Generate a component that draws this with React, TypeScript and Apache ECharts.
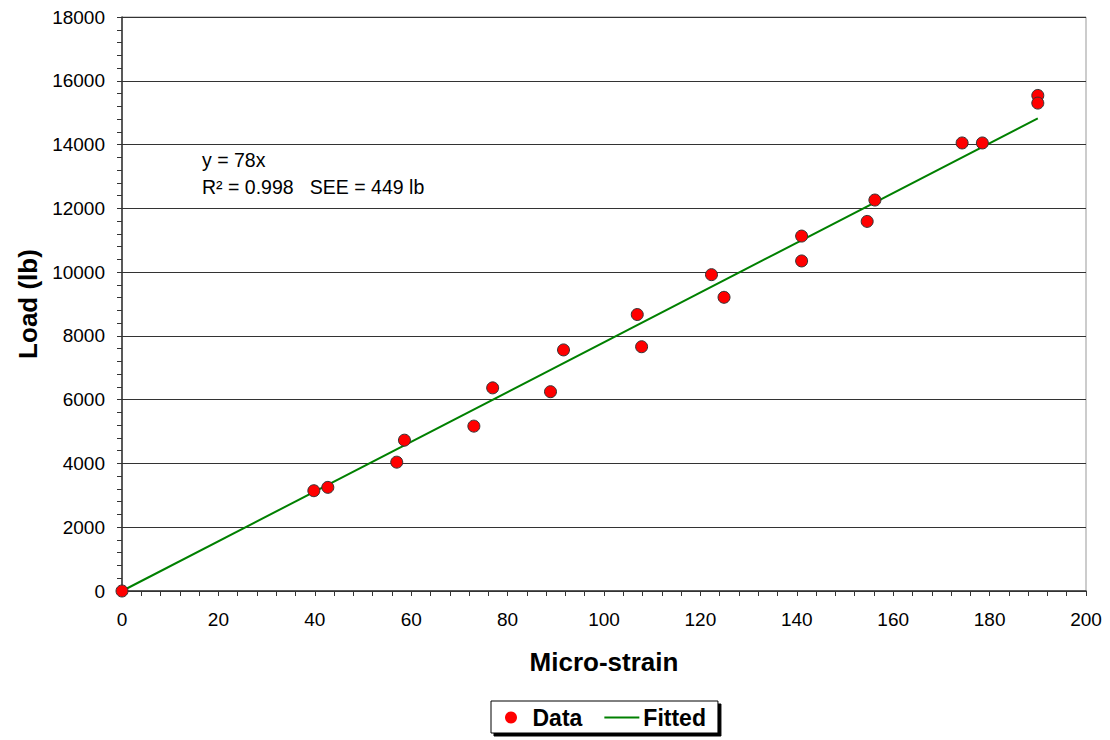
import React, { useEffect, useRef } from "react";
import * as echarts from "echarts";

const dataX = [0, 39.8, 42.7, 57.0, 58.6, 73.0, 76.9, 88.9, 91.6, 106.9, 107.8, 122.3, 124.9, 141.0, 141.0, 154.6, 156.2, 174.3, 178.5, 190.0, 190.0];
const dataY = [0, 3145, 3250, 4040, 4730, 5170, 6370, 6250, 7560, 8670, 7660, 9920, 9210, 11130, 10350, 11590, 12260, 14050, 14050, 15540, 15300];
const fittedX = [0, 190];
const fittedY = [0, 14820];
const xTicks = { min: 0, max: 200, interval: 20 };
const yTicks = { min: 0, max: 18000, interval: 2000 };
const annotationLines = ["y = 78x", "R\u00B2 = 0.998   SEE = 449 lb"];

const FONT = "'Liberation Sans', Arial, sans-serif";

export default function App() {
  const ref = useRef<HTMLDivElement>(null);
  useEffect(() => {
    if (!ref.current) return;
    const chart = echarts.init(ref.current, undefined, { renderer: "svg" });
    chart.setOption({
      animation: false,
      backgroundColor: "#fff",
      grid: {
        left: 122,
        top: 17,
        right: 24,
        bottom: 149,
        show: true,
        borderColor: "#999",
        borderWidth: 1,
        backgroundColor: "transparent",
      },
      xAxis: {
        type: "value",
        min: xTicks.min,
        max: xTicks.max,
        interval: xTicks.interval,
        name: "Micro-strain",
        nameLocation: "middle",
        nameGap: 58,
        nameTextStyle: { fontFamily: FONT, fontSize: 26, fontWeight: "bold", color: "#000" },
        axisLine: { show: true, onZero: false, lineStyle: { color: "#333", width: 1.5 } },
        axisTick: { show: true, inside: false, length: 5, lineStyle: { color: "#333" } },
        minorTick: { show: true, splitNumber: 5, length: 5, lineStyle: { color: "#333" } },
        axisLabel: { fontFamily: FONT, fontSize: 19, color: "#000", margin: 19 },
        splitLine: { show: false },
      },
      yAxis: {
        type: "value",
        min: yTicks.min,
        max: yTicks.max,
        interval: yTicks.interval,
        name: "Load (lb)",
        nameLocation: "middle",
        nameGap: 72,
        nameTextStyle: { fontFamily: FONT, fontSize: 26, fontWeight: "bold", color: "#000" },
        axisLine: { show: true, onZero: false, lineStyle: { color: "#333", width: 1.5 } },
        axisTick: { show: true, inside: false, length: 5, lineStyle: { color: "#333" } },
        minorTick: { show: true, splitNumber: 5, length: 5, lineStyle: { color: "#333" } },
        axisLabel: {
          fontFamily: FONT,
          fontSize: 19,
          color: "#000",
          margin: 17,
          formatter: (v: number) => String(v),
        },
        splitLine: { show: true, lineStyle: { color: "#333", width: 1 } },
      },
      legend: {
        left: 491,
        top: 701,
        orient: "horizontal",
        padding: [5, 12, 4, 14],
        itemGap: 22,
        itemWidth: 35,
        itemHeight: 12,
        backgroundColor: "#fff",
        borderColor: "#000",
        borderWidth: 1,
        shadowColor: "#000",
        shadowOffsetX: 3,
        shadowOffsetY: 3,
        shadowBlur: 0,
        textStyle: { fontFamily: FONT, fontSize: 23, fontWeight: "bold", color: "#000", padding: [0, 0, 0, -1] },
        data: [
          { name: "Data", icon: "circle", itemStyle: { borderWidth: 0 } },
          { name: "Fitted", icon: "path://M0,0L36,0L36,2.2L0,2.2Z" },
        ],
      },
      graphic: annotationLines.map((t, i) => ({
        type: "text",
        left: 202,
        top: 150 + i * 27,
        style: { text: t, fontFamily: FONT, fontSize: 19.5, fill: "#000" },
      })),
      series: [
        {
          name: "Fitted",
          type: "line",
          data: fittedX.map((x, i) => [x, fittedY[i]]),
          showSymbol: false,
          symbol: "none",
          lineStyle: { color: "#008000", width: 2 },
          itemStyle: { color: "#008000" },
          z: 2,
        },
        {
          name: "Data",
          type: "scatter",
          data: dataX.map((x, i) => [x, dataY[i]]),
          symbol: "circle",
          symbolSize: 12,
          itemStyle: { color: "#ff0000", borderColor: "#333", borderWidth: 1, opacity: 1 },
          z: 3,
        },
      ],
    });
    return () => chart.dispose();
  }, []);
  return (
    <div
      ref={ref}
      style={{ position: "absolute", left: 0, top: 0, width: 1110, height: 740 }}
    />
  );
}
